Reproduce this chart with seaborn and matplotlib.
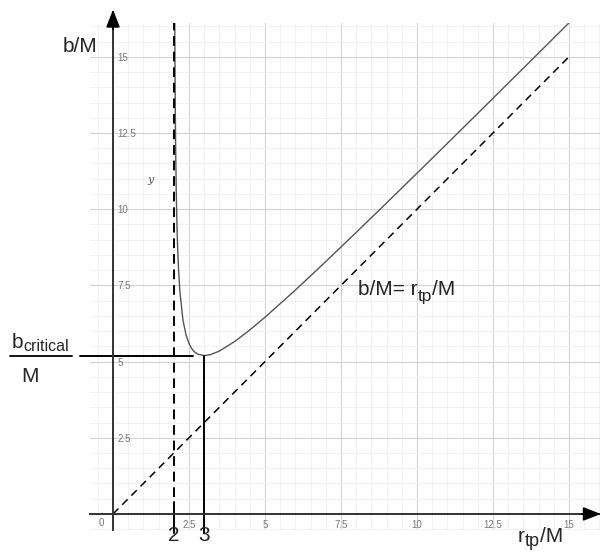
import matplotlib
matplotlib.use("Agg")
import matplotlib.pyplot as plt
import numpy as np
import seaborn as sns

# turning-point radius r_tp/M and impact parameter b/M
r_tp = [2.032, 2.035, 2.04, 2.05, 2.06, 2.08, 2.1, 2.12, 2.15, 2.2, 2.3, 2.4,
        2.5, 2.6, 2.7, 2.8, 3.0, 3.2, 3.5, 4.0, 4.5, 5.0, 6.0, 7.0, 8.0, 9.0,
        10.0, 11.0, 12.0, 13.0, 14.0, 15.0]
b_val = [16.2, 15.52, 14.57, 13.13, 12.07, 10.61, 9.62, 8.91, 8.14, 7.30, 6.37, 5.88,
         5.59, 5.41, 5.30, 5.24, 5.196, 5.226, 5.346, 5.657, 6.037, 6.455, 7.348, 8.283,
         9.238, 10.205, 11.180, 12.161, 13.145, 14.133, 15.122, 16.113]

line_x = [0, 15]
line_y = [0, 15]

r_horizon = 2
r_photon = 3
b_critical = 5.196

major = [0, 2.5, 5, 7.5, 10, 12.5, 15]
major_labels = ["", "2.5", "5", "7.5", "10", "12.5", "15"]


def chain_text(ax, x, y, parts):
    """Write text pieces one after another; parts = (text, size, drop in points)."""
    first = ax.text(x, y, parts[0][0], fontsize=parts[0][1], ha="left", va="bottom",
                    clip_on=False)
    prev = first
    for s, size, dy in parts[1:]:
        prev = ax.annotate(s, xy=(1, 0), xycoords=(prev, first), xytext=(0, -dy),
                           textcoords="offset points", fontsize=size,
                           ha="left", va="bottom", annotation_clip=False)
    return first


sns.set_theme(style="white")
plt.rcParams["font.family"] = ["Liberation Sans", "DejaVu Sans"]

fig = plt.figure(figsize=(6, 5.52), dpi=100)
ax = fig.add_axes([0.15, 0.0399, 0.85, 0.9185])
ax.set_xlim(-0.757, 16.02)
ax.set_ylim(-0.525, 16.11)

# grid
minor = np.arange(-0.5, 16.5, 0.5)
ax.set_xticks(major, labels=major_labels)
ax.set_yticks(major, labels=major_labels)
ax.set_xticks(minor, minor=True)
ax.set_yticks(minor, minor=True)
ax.grid(which="major", color="#d2d2d2", lw=0.8)
ax.grid(which="minor", color="#f0f0f0", lw=0.6)
ax.set_axisbelow(True)

for side in ["top", "right"]:
    ax.spines[side].set_visible(False)
for side in ["left", "bottom"]:
    ax.spines[side].set_position(("data", 0))
    ax.spines[side].set_color("#333333")
    ax.spines[side].set_linewidth(1.4)

ax.tick_params(which="both", direction="inout", length=6, width=1.1, color="#333333",
               labelsize=7, labelcolor="#777777")
ax.tick_params(axis="y", pad=-6)
ax.tick_params(axis="x", pad=1.5)
plt.setp(ax.get_yticklabels(), ha="left")
ax.text(-0.4, -0.3, "0", fontsize=7, color="#777777", ha="center", va="center")

# arrows on the axes
arrow = dict(arrowstyle="-|>,head_length=0.9,head_width=0.35", color="black", lw=1.2,
             shrinkA=0, shrinkB=0)
ax.annotate("", xy=(0, 16.55), xytext=(0, 15.9), arrowprops=arrow, annotation_clip=False)
ax.annotate("", xy=(16.05, 0), xytext=(15.4, 0), arrowprops=arrow, annotation_clip=False)

# curves
sns.lineplot(x=r_tp, y=b_val, sort=False, color="#555555", lw=1.0, ax=ax)
sns.lineplot(x=line_x, y=line_y, color="black", lw=1.1, ax=ax, linestyle=(0, (5, 3.5)))

ax.plot([r_horizon, r_horizon], [0.55, 16.11], color="black", lw=1.4,
        linestyle=(0, (5, 3)))
ax.plot([r_horizon, r_horizon], [-0.62, 0.4], color="black", lw=1.4, clip_on=False)
ax.plot([r_photon, r_photon], [-0.62, b_critical], color="black", lw=1.4, clip_on=False)
ax.plot([-1.09, 2.63], [b_critical, b_critical], color="black", lw=1.4, clip_on=False)

# labels
ax.text(-1.08, 15.35, "b/M", fontsize=15, ha="center", va="center", clip_on=False)
chain_text(ax, -3.32, 5.32, [("b", 15, 0), ("critical", 11.5, 1.5)])
ax.plot([-3.39, -1.35], [b_critical, b_critical], color="black", lw=1.3, clip_on=False)
ax.text(-2.72, 4.5, "M", fontsize=15, ha="center", va="center", clip_on=False)
chain_text(ax, 8.07, 7.06, [("b/M= r", 15, 0), ("tp", 12.5, 4), ("/M", 15, 0)])
chain_text(ax, 13.32, -1.06, [("r", 15, 0), ("tp", 13, 3), ("/M", 15, 0)])
ax.text(r_horizon, -0.4, "2", fontsize=15, ha="center", va="top", clip_on=False)
ax.text(r_photon, -0.4, "3", fontsize=15, ha="center", va="top", clip_on=False)
ax.text(1.25, 10.96, "y", fontsize=8, style="italic", family="DejaVu Serif",
        color="#555555", ha="center", va="center")

fig.savefig("out.png", dpi=100)
